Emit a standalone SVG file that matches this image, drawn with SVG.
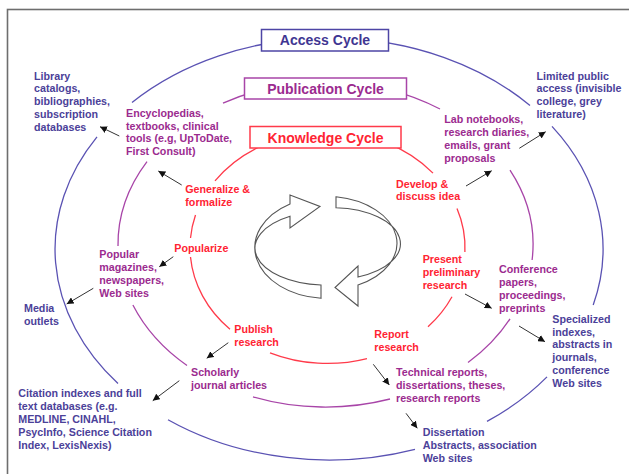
<svg xmlns="http://www.w3.org/2000/svg" width="629" height="474" viewBox="0 0 629 474">
<style>
text{font-family:"Liberation Sans",Arial,Helvetica,sans-serif;font-weight:bold;font-size:10.7px}
.acc{fill:#4b4199}
.pub{fill:#9b2b8f}
.kno{fill:#ff2433}
.title{font-size:14px;text-anchor:middle}
.arcA{fill:none;stroke:#5a52b3;stroke-width:1.3}
.arcP{fill:none;stroke:#a845a8;stroke-width:1.3}
.arcK{fill:none;stroke:#ff3a4a;stroke-width:1.3}
.conn{fill:none;stroke:#333;stroke-width:1;marker-end:url(#ah)}
.cyc{fill:#fff;stroke:#555;stroke-width:1.1}
</style>
<defs>
<marker id="ah" viewBox="0 0 10 10" refX="10" refY="5" markerWidth="7" markerHeight="7" markerUnits="userSpaceOnUse" orient="auto">
<path d="M0,0 L10,5 L0,10 z" fill="#111"/>
</marker>
</defs>
<rect x="0" y="0" width="629" height="474" fill="#fff"/>
<rect x="7.5" y="9.5" width="640" height="490" fill="none" stroke="#6e6e6e" stroke-width="1.6"/>

<g id="cycle-arcs">
<path class="arcA" d="M132 102.4 A274 211 0 0 1 530 105.5"/>
<path class="arcA" d="M97 136.8 A274 211 0 0 0 118 383.6"/>
<path class="arcA" d="M168 419.7 A274 211 0 0 0 415 449.3"/>
<path class="arcA" d="M487 421.4 A274 211 0 0 0 547 376.9"/>
<path class="arcA" d="M552 126.4 A274 211 0 0 1 593.2 305"/>
<path class="arcP" d="M223 103.2 A207.5 162.5 0 0 1 440 109"/>
<path class="arcP" d="M147 161.6 A207.5 162.5 0 0 0 118 246"/>
<path class="arcP" d="M132.9 305 A207.5 162.5 0 0 0 187 365.5"/>
<path class="arcP" d="M253 396.8 A207.5 162.5 0 0 0 390 399"/>
<path class="arcP" d="M468 362.6 A207.5 162.5 0 0 0 510 318.9"/>
<path class="arcP" d="M510 170.1 A207.5 162.5 0 0 1 532.1 260"/>
<path class="arcK" d="M215 180.8 A137.5 116 0 0 1 433 173.1"/>
<path class="arcK" d="M195.5 215 A137.5 116 0 0 0 190.5 238"/>
<path class="arcK" d="M190.5 257 A137.5 116 0 0 0 230 329.3"/>
<path class="arcK" d="M270 352.8 A137.5 116 0 0 0 367 358.6"/>
<path class="arcK" d="M428 326.7 A137.5 116 0 0 0 452 296.7"/>
<path class="arcK" d="M464.9 252 A137.5 116 0 0 0 457 208.5"/>
</g>

<g id="access-cycle">
<rect x="261.5" y="29.5" width="127" height="21.5" fill="#fff" stroke="#4d45a5" stroke-width="1.5"/>
<text class="title" x="325" y="45" fill="#3f3692">Access Cycle</text>
</g>
<g id="publication-cycle">
<rect x="244.5" y="78" width="162" height="21" fill="#fff" stroke="#a845a8" stroke-width="1.5"/>
<text class="title pub" x="325.5" y="93.5">Publication Cycle</text>
</g>
<g id="knowledge-cycle">
<rect x="250" y="126.5" width="151" height="21.5" fill="#fff" stroke="#ff3a4a" stroke-width="1.5"/>
<text class="title kno" x="325.5" y="142.5">Knowledge Cycle</text>
</g>

<g id="center-cycle-arrows">
<path class="cyc" d="M321 298.3 A73 51 0 0 1 290 203.9 L290 195 L320 206.5 L290 228 L290 216.2 A71 37 0 0 0 321 285 Z"/>
<path class="cyc" d="M336 196.8 A72 47 0 0 1 358 285 L358 306 L335 287.5 L358 266 L358 277 A68 36 0 0 0 336 207.7 Z"/>
</g>

<g id="library-catalogs"><text class="acc"><tspan x="34" y="79.5">Library</tspan><tspan x="34" y="92.3">catalogs,</tspan><tspan x="34" y="105.1">bibliographies,</tspan><tspan x="34" y="117.9">subscription</tspan><tspan x="34" y="130.7">databases</tspan></text></g>
<g id="limited-public-access"><text class="acc"><tspan x="536.5" y="79.5">Limited public</tspan><tspan x="536.5" y="92.3">access (invisible</tspan><tspan x="536.5" y="105.1">college, grey</tspan><tspan x="536.5" y="117.9">literature)</tspan></text></g>
<g id="media-outlets"><text class="acc"><tspan x="24" y="311.7">Media</tspan><tspan x="24" y="324.5">outlets</tspan></text></g>
<g id="citation-indexes"><text class="acc"><tspan x="18.3" y="397.3">Citation indexes and full</tspan><tspan x="18.3" y="410.1">text databases (e.g.</tspan><tspan x="18.3" y="422.9">MEDLINE, CINAHL,</tspan><tspan x="18.3" y="435.7">PsycInfo, Science Citation</tspan><tspan x="18.3" y="448.5">Index, LexisNexis)</tspan></text></g>
<g id="specialized-indexes"><text class="acc"><tspan x="552.3" y="322.7">Specialized</tspan><tspan x="552.3" y="335.5">indexes,</tspan><tspan x="552.3" y="348.3">abstracts in</tspan><tspan x="552.3" y="361.1">journals,</tspan><tspan x="552.3" y="373.9">conference</tspan><tspan x="552.3" y="386.7">Web sites</tspan></text></g>
<g id="dissertation-abstracts"><text class="acc"><tspan x="422.7" y="436">Dissertation</tspan><tspan x="422.7" y="448.8">Abstracts, association</tspan><tspan x="422.7" y="461.6">Web sites</tspan></text></g>

<g id="encyclopedias"><text class="pub"><tspan x="126" y="116.7">Encyclopedias,</tspan><tspan x="126" y="129.5">textbooks, clinical</tspan><tspan x="126" y="142.3">tools (e.g, UpToDate,</tspan><tspan x="126" y="155.1">First Consult)</tspan></text></g>
<g id="lab-notebooks"><text class="pub"><tspan x="444.3" y="123.3">Lab notebooks,</tspan><tspan x="444.3" y="136.1">research diaries,</tspan><tspan x="444.3" y="148.9">emails, grant</tspan><tspan x="444.3" y="161.7">proposals</tspan></text></g>
<g id="popular-magazines"><text class="pub"><tspan x="99.3" y="258.3">Popular</tspan><tspan x="99.3" y="271.1">magazines,</tspan><tspan x="99.3" y="283.9">newspapers,</tspan><tspan x="99.3" y="296.7">Web sites</tspan></text></g>
<g id="conference-papers"><text class="pub"><tspan x="499" y="273.3">Conference</tspan><tspan x="499" y="286.1">papers,</tspan><tspan x="499" y="298.9">proceedings,</tspan><tspan x="499" y="311.7">preprints</tspan></text></g>
<g id="scholarly-articles"><text class="pub"><tspan x="191" y="376">Scholarly</tspan><tspan x="191" y="388.8">journal articles</tspan></text></g>
<g id="technical-reports"><text class="pub"><tspan x="396" y="376">Technical reports,</tspan><tspan x="396" y="388.8">dissertations, theses,</tspan><tspan x="396" y="401.6">research reports</tspan></text></g>

<g id="generalize"><text class="kno"><tspan x="185.3" y="193.3">Generalize &amp;</tspan><tspan x="185.3" y="205.6">formalize</tspan></text></g>
<g id="popularize"><text class="kno"><tspan x="174.3" y="252.3">Popularize</tspan></text></g>
<g id="develop"><text class="kno"><tspan x="396" y="187.7">Develop &amp;</tspan><tspan x="396" y="200.2">discuss idea</tspan></text></g>
<g id="present-preliminary"><text class="kno"><tspan x="422.7" y="263.3">Present</tspan><tspan x="422.7" y="276">preliminary</tspan><tspan x="422.7" y="288.7">research</tspan></text></g>
<g id="publish-research"><text class="kno"><tspan x="234.3" y="333.3">Publish</tspan><tspan x="234.3" y="345.8">research</tspan></text></g>
<g id="report-research"><text class="kno"><tspan x="374.3" y="338.3">Report</tspan><tspan x="374.3" y="350.8">research</tspan></text></g>

<g id="connectors">
<path class="conn" d="M119.3 136 L100 126.7"/>
<path class="conn" d="M181.7 185 L158.3 171"/>
<path class="conn" d="M173.3 256.7 L159.3 266.7"/>
<path class="conn" d="M93.3 288.3 L66.7 304"/>
<path class="conn" d="M228.3 342.7 L206.7 358.3"/>
<path class="conn" d="M179.3 380.7 L152.7 400.7"/>
<path class="conn" d="M373.3 364.3 L389.3 385"/>
<path class="conn" d="M406 413.3 L417.3 428.3"/>
<path class="conn" d="M519 326 L545 341.7"/>
<path class="conn" d="M465 294 L491.7 308.3"/>
<path class="conn" d="M466 186 L491.7 170.7"/>
<path class="conn" d="M519.3 148.3 L545.7 131.7"/>
</g>
</svg>
